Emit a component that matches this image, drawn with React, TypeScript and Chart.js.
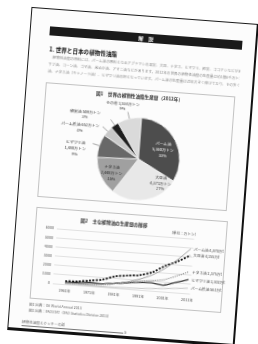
import React, { useEffect, useRef } from 'react';
import { Chart, registerables } from 'chart.js';

Chart.register(...registerables);

// ---------- Figure 1 (pie) data ----------
const pieCategories = ['パーム油', '大豆油', 'ナタネ油', 'ヒマワリ油', 'パーム核油', '綿実油', 'その他'];
const pieValues = [5360, 4371, 2448, 1480, 652, 509, 1534]; // 万トン
const pieColors = ['#4d4d4d', '#e8e8e8', '#a0a0a0', '#686868', '#c9c9c9', '#1e1e1e', '#dadada'];
const pieTextColors = ['#ffffff', '#333333', '#222222', '#333333', '#333333', '#333333', '#333333'];
const pieLabelShift = [6, -33, -3, -9, -14, -15, -4];
const pieLabelRadius = [0.64, 0.8, 0.73, 1.56, 1.61, 1.69, 1.34];
const pieLabelOutside = [false, false, false, true, true, true, true];
const pieLabelRows = [3, 3, 3, 3, 2, 2, 2];

// ---------- Figure 2 (lines) data ----------
const years = [1961, 1966, 1971, 1976, 1981, 1986, 1991, 1996, 2001, 2006, 2011];
const xTickYears = [1961, 1971, 1981, 1991, 2001, 2011];
const lineNames = ['パーム油', '大豆油', 'ナタネ油', 'ヒマワリ油', 'パーム核油'];
const palmOil = [150, 170, 210, 330, 500, 750, 1150, 1700, 2500, 3600, 4870];
const soybeanOil = [340, 400, 600, 800, 1250, 1450, 1600, 2000, 2800, 3400, 4155];
const rapeseedOil = [110, 150, 200, 250, 450, 700, 900, 1100, 1300, 1800, 2375];
const sunflowerOil = [200, 300, 380, 350, 500, 650, 800, 850, 700, 1100, 1502];
const palmKernelOil = [40, 45, 50, 60, 80, 110, 150, 230, 330, 450, 561];
const lineSeries = [palmOil, soybeanOil, rapeseedOil, sunflowerOil, palmKernelOil];
const lineColors = ['#8a8a8a', '#111111', '#9a9a9a', '#3c3c3c', '#b8b8b8'];
const lineWidths = [0.8, 1.8, 1.3, 1.3, 0.8];
const lineDashes: number[][] = [[], [2, 1.4], [1.2, 1], [], []];

const FONT = '"Noto Sans CJK JP", "Noto Sans", sans-serif';

const pieLabelPlugin = {
  id: 'pieLabels',
  afterDatasetsDraw(chart: any) {
    const ctx = chart.ctx;
    const meta = chart.getDatasetMeta(0);
    const total = pieValues.reduce((a, b) => a + b, 0);
    ctx.save();
    ctx.font = `3.9px ${FONT}`;
    ctx.textAlign = 'center';
    ctx.textBaseline = 'middle';
    meta.data.forEach((arc: any, i: number) => {
      const p = arc.getProps(['x', 'y', 'startAngle', 'endAngle', 'outerRadius'], true);
      const mid = (p.startAngle + p.endAngle) / 2;
      const la = mid + (pieLabelShift[i] * Math.PI) / 180;
      const lr = p.outerRadius * pieLabelRadius[i];
      const lx = p.x + Math.cos(la) * lr;
      const ly = p.y + Math.sin(la) * lr;
      const pct = Math.round((pieValues[i] / total) * 100);
      const val = `${pieValues[i].toLocaleString('en-US')}万トン`;
      const rows =
        pieLabelRows[i] === 3 ? [pieCategories[i], val, `${pct}%`] : [`${pieCategories[i]} ${val}`, `${pct}%`];
      if (pieLabelOutside[i]) {
        ctx.strokeStyle = '#555';
        ctx.lineWidth = 0.5;
        ctx.beginPath();
        ctx.moveTo(p.x + Math.cos(mid) * p.outerRadius, p.y + Math.sin(mid) * p.outerRadius);
        ctx.lineTo(p.x + Math.cos(mid) * p.outerRadius * 1.17, p.y + Math.sin(mid) * p.outerRadius * 1.17);
        ctx.stroke();
      }
      ctx.fillStyle = pieTextColors[i];
      const lh = 5.6;
      rows.forEach((t, k) => {
        ctx.fillText(t, lx, ly + (k - (rows.length - 1) / 2) * lh);
      });
    });
    ctx.restore();
  },
};

const lineLabelPlugin = {
  id: 'lineLabels',
  afterDatasetsDraw(chart: any) {
    const ctx = chart.ctx;
    ctx.save();
    ctx.font = `3.7px ${FONT}`;
    ctx.textAlign = 'left';
    ctx.textBaseline = 'middle';
    ctx.fillStyle = '#444';
    chart.data.datasets.forEach((ds: any, i: number) => {
      const meta = chart.getDatasetMeta(i);
      const last = meta.data[meta.data.length - 1];
      const v = lineSeries[i][lineSeries[i].length - 1];
      ctx.fillText(`${lineNames[i]} ${v.toLocaleString('en-US')}万t`, last.x + 3, last.y);
    });
    ctx.restore();
  },
};

function PieFigure() {
  const ref = useRef<HTMLCanvasElement>(null);
  useEffect(() => {
    const chart = new Chart(ref.current!, {
      type: 'pie',
      data: {
        labels: pieCategories,
        datasets: [
          {
            data: pieValues,
            backgroundColor: pieColors,
            borderColor: '#f2f2f2',
            borderWidth: 0.7,
            hoverOffset: 0,
            offset: 0,
            hoverBorderWidth: 0,
          } as any,
        ],
      },
      options: {
        responsive: false,
        maintainAspectRatio: false,
        animation: false,
        layout: { padding: { left: 55.5, top: 27.1, right: 49.5, bottom: 2.9 } },
        plugins: { legend: { display: false }, tooltip: { enabled: false }, title: { display: false } },
        events: [],
      },
      plugins: [pieLabelPlugin],
    });
    return () => chart.destroy();
  }, []);
  return <canvas ref={ref} width={188} height={113} style={{ position: 'absolute', left: 0, top: 0, width: 188, height: 113 }} />;
}

function LineFigure() {
  const ref = useRef<HTMLCanvasElement>(null);
  useEffect(() => {
    const chart = new Chart(ref.current!, {
      type: 'line',
      data: {
        datasets: lineSeries.map((s, i) => ({
          label: lineNames[i],
          data: s.map((v, k) => ({ x: years[k], y: v })),
          borderColor: lineColors[i],
          borderWidth: lineWidths[i],
          borderDash: lineDashes[i],
          pointRadius: 0,
          fill: false,
          tension: 0.3,
        })),
      },
      options: {
        responsive: false,
        maintainAspectRatio: false,
        animation: false,
        events: [],
        layout: { padding: { left: 0, top: 19, right: 41.5, bottom: 6 } },
        plugins: { legend: { display: false }, tooltip: { enabled: false } },
        scales: {
          x: {
            type: 'linear',
            min: 1956,
            max: 2012,
            afterBuildTicks: (scale: any) => {
              scale.ticks = xTickYears.map((v) => ({ value: v }));
            },
            afterFit: (scale: any) => {
              scale.height = 10;
            },
            grid: { display: false, drawTicks: false },
            border: { display: false },
            ticks: {
              padding: 4,
              autoSkip: false,
              maxRotation: 0,
              font: { size: 3.7, family: FONT },
              color: '#555',
              callback: (v: any) => `${v}年`,
            },
          },
          y: {
            min: 0,
            max: 6000,
            afterFit: (scale: any) => {
              scale.width = 21;
            },
            grid: { color: '#c6c6c6', lineWidth: 0.5, drawTicks: false },
            border: { display: false },
            ticks: {
              stepSize: 1000,
              padding: 3,
              font: { size: 3.7, family: FONT },
              color: '#555',
              callback: (v: any) => String(v),
            },
          },
        },
      },
      plugins: [lineLabelPlugin],
    });
    return () => chart.destroy();
  }, []);
  return <canvas ref={ref} width={200} height={90} style={{ position: 'absolute', left: 0, top: 0, width: 200, height: 90 }} />;
}

const abs = (left: number, top: number, extra: React.CSSProperties = {}): React.CSSProperties => ({
  position: 'absolute',
  left,
  top,
  whiteSpace: 'nowrap',
  ...extra,
});

const bodyLines = [
  '　植物性油脂の原料には、パーム油の原料となるアブラヤシの果実、大豆、ナタネ、ヒマワリ、綿実、ココヤシなどがあり、世界の生産量は',
  'サフ油、コーン油、ゴマ油、米ぬか油、アマニ油などがあります。2012年の世界の植物性油脂の生産量は約1億6千万トンで、パーム油が最も多く、次いで大豆',
  '油、ナタネ油（キャノーラ油）、ヒマワリ油の順となっています。パーム油の生産量は近年大きく伸びており、その多くが東南アジアで生産されています。',
];

export default function App() {
  return (
    <div style={{ position: 'fixed', inset: 0, background: '#ffffff', overflow: 'hidden', fontFamily: FONT }}>
      <div
        style={{
          position: 'absolute',
          left: 19,
          top: 15,
          width: 228,
          height: 324,
          boxSizing: 'border-box',
          background: '#fcfcfc',
          borderTop: '1.5px solid #1a1a1a',
          borderLeft: '1.5px solid #1a1a1a',
          borderRight: '2px solid #111',
          borderBottom: '3px solid #111',
          transform: 'rotate(4.3deg)',
          transformOrigin: '50% 50%',
          filter: 'blur(0.35px)',
        }}
      >
        <div
          style={abs(19, 17, {
            width: 193,
            height: 9,
            background: '#1a1a1a',
            color: '#fff',
            fontSize: 5,
            fontWeight: 700,
            lineHeight: '9px',
            textAlign: 'center',
          })}
        >
          解　説
        </div>
        <div style={abs(20, 37, { fontSize: 5.6, fontWeight: 700, color: '#111', lineHeight: '7px' })}>
          1. 世界と日本の植物性油脂
        </div>
        {bodyLines.map((t, i) => (
          <div
            key={i}
            style={abs(20, 45 + i * 7, {
              width: 192,
              overflow: 'hidden',
              fontSize: 3.6,
              lineHeight: '5px',
              color: '#8a8a8a',
            })}
          >
            {t}
          </div>
        ))}
        <div style={abs(18.5, 72.5, { width: 188, height: 113, border: '0.6px solid #c2c2c2' })}>
          <div
            style={abs(0, 3, {
              width: 188,
              textAlign: 'center',
              fontSize: 4.6,
              fontWeight: 700,
              color: '#333',
              lineHeight: '7px',
            })}
          >
            図1　世界の植物性油脂生産量（2012年）
          </div>
          <PieFigure />
        </div>
        <div style={abs(18.5, 197.5, { width: 190, height: 90, border: '0.6px solid #c2c2c2' })}>
          <div
            style={abs(0, 6, {
              width: 156,
              textAlign: 'center',
              fontSize: 4.6,
              fontWeight: 700,
              color: '#333',
              lineHeight: '7px',
            })}
          >
            図2　主な植物油の生産量の推移
          </div>
          <div style={abs(134, 12, { fontSize: 3.6, color: '#555', lineHeight: '5px' })}>（単位：万トン）</div>
          <LineFigure />
        </div>
        <div style={abs(19, 293, { fontSize: 3.5, color: '#666', lineHeight: '5px' })}>
          図1 出典：Oil World Annual 2013
        </div>
        <div style={abs(19, 299, { fontSize: 3.5, color: '#666', lineHeight: '5px' })}>
          図2 出典：FAOSTAT（FAO Statistics Division 2013）
        </div>
        <div style={abs(13, 311, { fontSize: 3.6, color: '#666', lineHeight: '5px' })}>植物性油脂とクッキーの話</div>
        <div style={abs(13, 316.5, { width: 102, height: 0, borderTop: '0.5px solid #777' })} />
        <div style={abs(116, 313.5, { fontSize: 3.6, color: '#555', lineHeight: '5px' })}>5</div>
      </div>
    </div>
  );
}
